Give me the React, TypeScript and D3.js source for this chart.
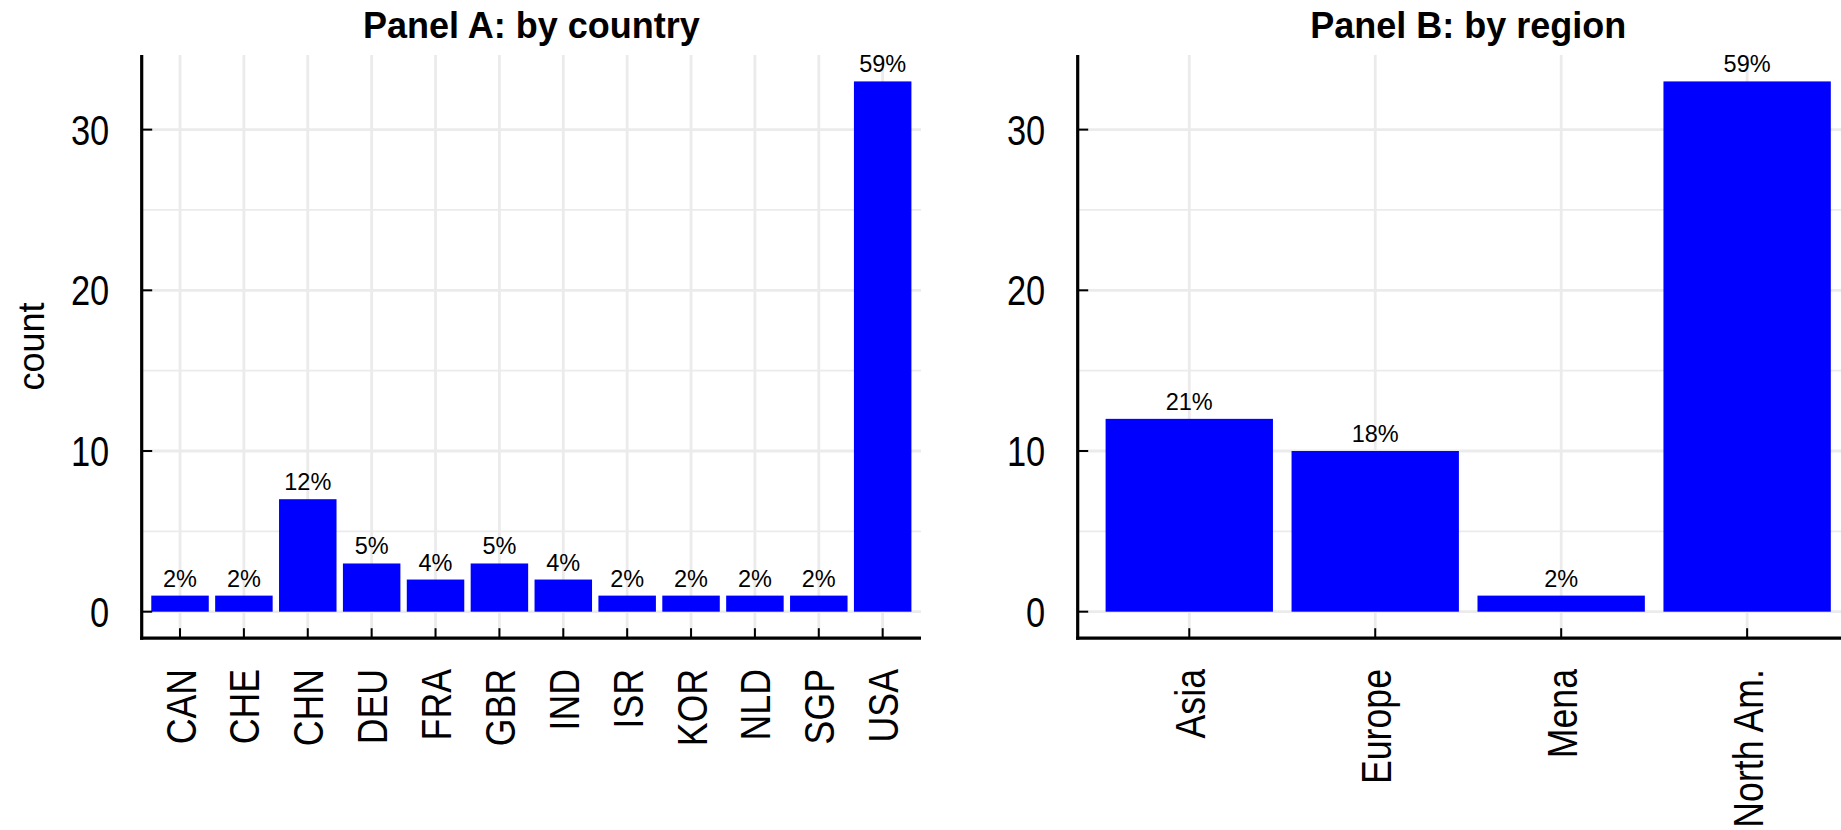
import React from "react";
import * as d3 from "d3";

// Counts per country and per region
const countries = ["CAN", "CHE", "CHN", "DEU", "FRA", "GBR", "IND", "ISR", "KOR", "NLD", "SGP", "USA"];
const countryCounts = [1, 1, 7, 3, 2, 3, 2, 1, 1, 1, 1, 33];

const regions = ["Asia", "Europe", "Mena", "North Am."];
const regionCounts = [12, 10, 1, 33];

const yMajorTicks = [0, 10, 20, 30];
const yMinorTicks = [5, 15, 25];

const W = 1841;
const H = 830;
const PANEL_TOP = 54.9;
const PANEL_BOTTOM = 638.2;

const SANS = "'Liberation Sans', Arial, Helvetica, sans-serif";
const NARROW_Y = 0.82; // horizontal squeeze for the condensed axis text
const NARROW_X = 0.85;
const GRID = "#ebebeb";

// Round-half-to-even, the same rule R uses for share labels
function roundHalfEven(v: number): number {
  const f = Math.floor(v);
  const d = v - f;
  if (Math.abs(d - 0.5) < 1e-9) return f % 2 === 0 ? f : f + 1;
  return Math.round(v);
}

type PanelProps = {
  title: string;
  cats: string[];
  counts: number[];
  x0: number;
  x1: number;
  yTitle?: string;
};

function Panel({ title, cats, counts, x0, x1, yTitle }: PanelProps) {
  const total = d3.sum(counts);
  const y = d3.scaleLinear().domain([-1.65, 34.65]).range([PANEL_BOTTOM, PANEL_TOP]);
  const x = d3.scalePoint<string>().domain(cats).range([x0, x1]).padding(0.6);
  const step = x.step();
  const barW = step * 0.9;
  const axisFs = 42;

  return (
    <g>
      {/* title */}
      <text
        x={(x0 + x1) / 2}
        y={37.5}
        textAnchor="middle"
        fontFamily={SANS}
        fontWeight="bold"
        fontSize={36}
        fill="#000"
      >
        {title}
      </text>

      {/* grid */}
      {yMinorTicks.map((t) => (
        <line key={"mi" + t} x1={x0} x2={x1} y1={y(t)} y2={y(t)} stroke={GRID} strokeWidth={1.8} />
      ))}
      {yMajorTicks.map((t) => (
        <line key={"ma" + t} x1={x0} x2={x1} y1={y(t)} y2={y(t)} stroke={GRID} strokeWidth={2.8} />
      ))}
      {cats.map((c) => (
        <line
          key={"v" + c}
          x1={x(c)}
          x2={x(c)}
          y1={PANEL_TOP}
          y2={PANEL_BOTTOM}
          stroke={GRID}
          strokeWidth={2.8}
        />
      ))}

      {/* bars */}
      {cats.map((c, i) => (
        <rect
          key={"b" + c}
          x={(x(c) as number) - barW / 2}
          y={y(counts[i])}
          width={barW}
          height={y(0) - y(counts[i])}
          fill="#0000ff"
        />
      ))}

      {/* share labels */}
      {cats.map((c, i) => (
        <text
          key={"p" + c}
          x={x(c)}
          y={y(counts[i]) - 9}
          textAnchor="middle"
          fontFamily={SANS}
          fontSize={23.5}
          fill="#000"
        >
          {roundHalfEven((counts[i] / total) * 100) + "%"}
        </text>
      ))}

      {/* axes */}
      <line x1={x0} x2={x0} y1={PANEL_TOP} y2={PANEL_BOTTOM + 1.6} stroke="#000" strokeWidth={3.2} />
      <line x1={x0 - 1.6} x2={x1} y1={PANEL_BOTTOM} y2={PANEL_BOTTOM} stroke="#000" strokeWidth={3.2} />

      {yMajorTicks.map((t) => (
        <g key={"yt" + t}>
          <line x1={x0} x2={x0 + 10.5} y1={y(t)} y2={y(t)} stroke="#000" strokeWidth={2} />
          <text
            transform={`translate(${x0 - 32.5},${y(t) + 15}) scale(${NARROW_Y},1)`}
            textAnchor="end"
            fontFamily={SANS}
            fontSize={axisFs}
            fill="#000"
          >
            {t}
          </text>
        </g>
      ))}

      {cats.map((c) => (
        <g key={"xt" + c}>
          <line
            x1={x(c)}
            x2={x(c)}
            y1={PANEL_BOTTOM}
            y2={PANEL_BOTTOM - 10}
            stroke="#000"
            strokeWidth={2}
          />
          <text
            transform={`translate(${(x(c) as number) + 15.5},${669}) rotate(-90) scale(${NARROW_X},1)`}
            textAnchor="end"
            fontFamily={SANS}
            fontSize={axisFs}
            fill="#000"
          >
            {c}
          </text>
        </g>
      ))}

      {yTitle && (
        <text
          transform={`translate(43.5,${(PANEL_TOP + PANEL_BOTTOM) / 2}) rotate(-90)`}
          textAnchor="middle"
          fontFamily={SANS}
          fontSize={36}
          fill="#000"
        >
          {yTitle}
        </text>
      )}
    </g>
  );
}

export default function App() {
  return (
    <svg
      width={W}
      height={H}
      viewBox={`0 0 ${W} ${H}`}
      style={{ position: "absolute", left: 0, top: 0, display: "block", background: "#fff" }}
    >
      <rect x={0} y={0} width={W} height={H} fill="#fff" />
      <Panel
        title="Panel A: by country"
        cats={countries}
        counts={countryCounts}
        x0={141.7}
        x1={921}
        yTitle="count"
      />
      <Panel title="Panel B: by region" cats={regions} counts={regionCounts} x0={1077.7} x1={1858.7} />
    </svg>
  );
}
